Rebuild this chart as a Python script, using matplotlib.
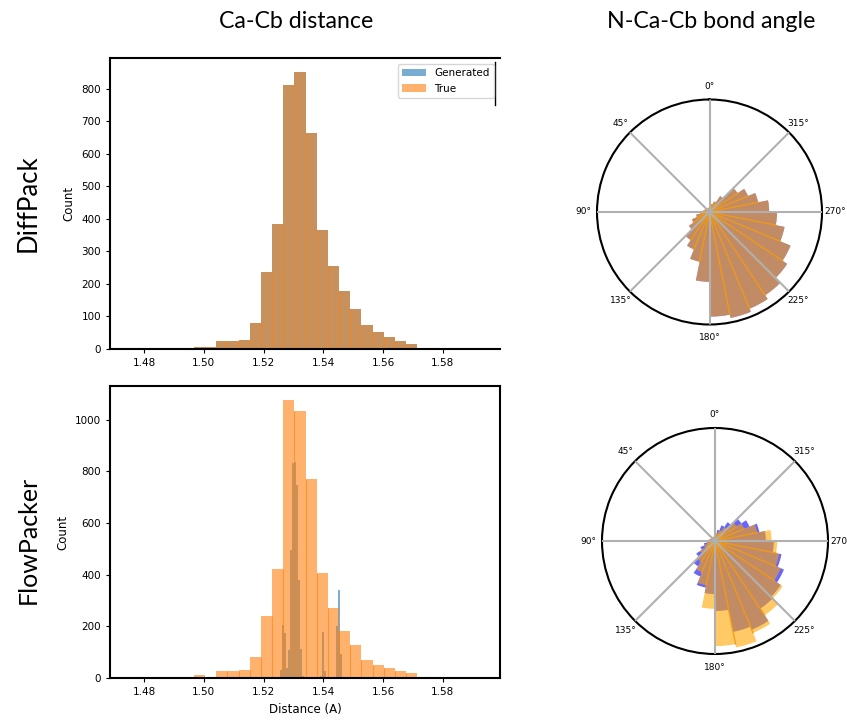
import numpy as np
import matplotlib
matplotlib.use('Agg')
import matplotlib.pyplot as plt

# ---- Ca-Cb distance histograms (counts) ----
true_lo, true_w, n_bins = 1.4742, 0.00374, 32
diffpack_true = [1, 2, 1, 1, 1, 2, 7, 7, 24, 26, 29, 79, 238, 383, 811, 852,
                 663, 365, 254, 177, 124, 73, 51, 38, 24, 16, 4, 4, 1, 0, 1, 0]
diffpack_gen = [1, 2, 1, 1, 1, 2, 7, 7, 24, 26, 29, 79, 238, 383, 811, 852,
                663, 365, 254, 177, 124, 73, 51, 38, 24, 16, 4, 4, 1, 0, 1, 0]

flow_true = [0, 1, 0, 0, 0, 1, 10, 5, 26, 26, 30, 80, 242, 424, 1077, 1035,
             771, 407, 273, 183, 126, 71, 52, 40, 26, 18, 5, 5, 1, 1, 0, 1]
gen_lo, gen_w = 1.52543, 0.000667
flow_gen = [32, 206, 174, 39, 107, 496, 834, 838, 747, 380, 112, 9,
            0, 0, 0, 0, 0, 0, 0, 0, 6, 180, 26, 0, 0, 0, 0, 0, 200, 341, 93, 0]

# ---- N-Ca-Cb bond angle polar histograms (bin k spans 11.25k .. 11.25(k+1) deg) ----
angle_w = 11.25
diffpack_angle = [0.04, 0.03, 0.03, 0.03, 0.04, 0.04, 0.05, 0.06, 0.08, 0.12, 0.17,
                  0.22, 0.30, 0.36, 0.45, 0.62, 0.93, 0.96, 0.93, 0.89, 0.83, 0.78,
                  0.68, 0.60, 0.53, 0.44, 0.37, 0.30, 0.17, 0.10, 0.07, 0.05]
flow_angle_true = [0.03, 0.03, 0.03, 0.03, 0.03, 0.03, 0.04, 0.05, 0.05, 0.07, 0.10,
                   0.16, 0.22, 0.30, 0.40, 0.60, 0.93, 0.96, 0.88, 0.79, 0.72, 0.63,
                   0.58, 0.55, 0.50, 0.38, 0.28, 0.23, 0.15, 0.10, 0.07, 0.05]
flow_angle_gen = [0.04, 0.04, 0.04, 0.04, 0.04, 0.04, 0.05, 0.06, 0.07, 0.10, 0.14,
                  0.20, 0.27, 0.34, 0.42, 0.47, 0.62, 0.82, 0.85, 0.72, 0.70, 0.66,
                  0.60, 0.52, 0.45, 0.40, 0.33, 0.28, 0.20, 0.15, 0.10, 0.06]

title_font = 'Lato'


def edges(lo, w, n):
    return lo + w * np.arange(n + 1)


def dist_hist(ax, gen_edges, gen_counts, true_edges, true_counts):
    ax.hist(gen_edges[:-1], bins=gen_edges, weights=gen_counts, alpha=0.6,
            color='C0', label='Generated')
    ax.hist(true_edges[:-1], bins=true_edges, weights=true_counts, alpha=0.6,
            color='C1', label='True')
    # seams between neighbouring bars
    seam = np.minimum(true_counts[:-1], true_counts[1:])
    ax.vlines(true_edges[1:-1], 0, seam, color='C1', lw=0.8, alpha=0.6)
    ax.set_xlim(1.4686, 1.5991)
    ax.set_xticks([1.48, 1.50, 1.52, 1.54, 1.56, 1.58])
    ax.set_ylabel('Count', fontsize=8.5)
    ax.tick_params(labelsize=7.5, width=0.8, length=3)
    for s in ax.spines.values():
        s.set_linewidth(1.5)


def angle_hist(ax, gen, true):
    th = np.deg2rad(angle_w * np.arange(len(gen)))
    w = np.deg2rad(angle_w)
    ax.bar(th, gen, width=w, align='edge', color='blue', alpha=0.6, linewidth=0)
    ax.bar(th, true, width=w, align='edge', color='orange', alpha=0.6, linewidth=0)
    seam = np.minimum(true, np.roll(true, 1))
    for t, r in zip(th, seam):
        ax.plot([t, t], [0, r], color='#f29a12', lw=1.1, alpha=0.85)
    ax.set_theta_zero_location('N')
    ax.set_ylim(0, 1.0)
    ax.set_yticks([])
    ax.set_xticks(np.deg2rad(np.arange(0, 360, 45)))
    ax.grid(True, color='#b0b0b0', linewidth=1.5)
    ax.set_axisbelow(False)
    ax.tick_params(labelsize=6.5, pad=-1)
    ax.spines['polar'].set_linewidth(1.5)


fig = plt.figure(figsize=(8.47, 7.21), dpi=100)

ax1 = fig.add_axes([110 / 847, 1 - 349 / 721, 390 / 847, 291 / 721])
t_edges = edges(true_lo, true_w, n_bins)
dist_hist(ax1, t_edges, diffpack_gen, t_edges, diffpack_true)
ax1.legend(loc='upper right', fontsize=7.5, handlelength=2.3, borderaxespad=0.6)
ax1.spines['right'].set_visible(False)
ax1.plot([0.988, 0.988], [0.84, 0.985], transform=ax1.transAxes, color='k', lw=1)

ax2 = fig.add_axes([110 / 847, 1 - 678 / 721, 390 / 847, 292 / 721])
dist_hist(ax2, edges(gen_lo, gen_w, n_bins), flow_gen, t_edges, flow_true)
ax2.set_xlabel('Distance (A)', fontsize=8.5)

ax3 = fig.add_axes([597 / 847, 1 - 324.5 / 721, 225 / 847, 225 / 721], projection='polar')
angle_hist(ax3, diffpack_angle, diffpack_angle)

ax4 = fig.add_axes([602 / 847, 1 - 654 / 721, 226 / 847, 226 / 721], projection='polar')
angle_hist(ax4, flow_angle_gen, flow_angle_true)

fig.text(296 / 847, 1 - 22 / 721, 'Ca-Cb distance', ha='center', va='center',
         fontsize=16.7, family=title_font)
fig.text(711 / 847, 1 - 22 / 721, 'N-Ca-Cb bond angle', ha='center', va='center',
         fontsize=16.7, family=title_font)
fig.text(28 / 847, 1 - 203 / 721, 'DiffPack', ha='center', va='center',
         fontsize=18.5, rotation=90, family=title_font)
fig.text(28 / 847, 1 - 540 / 721, 'FlowPacker', ha='center', va='center',
         fontsize=18, rotation=90, family=title_font)

fig.savefig('out.png', dpi=100)
